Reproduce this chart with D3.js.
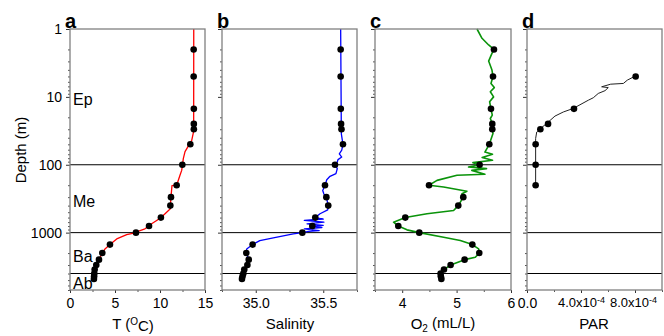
<!DOCTYPE html>
<html>
<head>
<meta charset="utf-8">
<script src="https://cdn.jsdelivr.net/npm/d3@7"></script>
<style>
  body { margin: 0; background: #fff; }
  svg { display: block; font-family: Arial, "Liberation Sans", sans-serif; }
</style>
</head>
<body>
<svg id="chart" width="664" height="336"></svg>
<script>
// bottle samples (m) shared by T, S and O2
const sampleDepth = [2, 5, 15, 25, 30, 50, 100, 200, 300, 400, 600, 800, 1000, 1500, 2000, 2500, 3000, 3500, 4000, 4400, 4800];
const tempDots = [13.74, 13.74, 13.76, 13.76, 13.76, 13.37, 12.48, 11.85, 11.22, 11.15, 10.1, 8.78, 7.33, 4.44, 3.59, 3.22, 2.92, 2.74, 2.7, 2.68, 2.66];
const salDots = [35.629, 35.629, 35.63, 35.632, 35.635, 35.646, 35.587, 35.513, 35.523, 35.537, 35.441, 35.419, 35.345, 34.977, 34.93, 34.948, 34.938, 34.915, 34.908, 34.902, 34.898];
const o2Dots = [5.687, 5.669, 5.632, 5.656, 5.656, 5.601, 5.423, 4.493, 5.123, 5.031, 4.057, 3.928, 4.314, 5.289, 5.417, 5.147, 4.89, 4.768, 4.706, 4.71, 4.72];

const parDepth = [5, 15, 25, 30, 50, 100, 200];
const parDots = [8.05e-4, 3.48e-4, 1.56e-4, 0.99e-4, 0.64e-4, 0.64e-4, 0.64e-4];

// CTD profiles, [depth, value]
const tempLine = [[1, 13.75], [30, 13.74], [33, 13.72], [44, 13.52], [50, 13.26], [64, 12.78], [81, 12.59], [100, 12.5], [121, 12.41], [143, 12.22], [200, 11.85], [203, 11.33], [300, 11.22], [400, 11.15], [445, 11.15], [527, 10.56], [600, 10.1], [662, 9.63], [741, 9.07], [800, 8.78], [879, 8.33], [931, 7.78], [1000, 7.33], [1067, 6.3], [1236, 5.19], [1500, 4.44], [1740, 3.89], [2000, 3.59], [2500, 3.22], [3000, 2.92], [3500, 2.74], [4000, 2.67], [4900, 2.63]];
const salLine = [[1, 35.629], [35, 35.634], [50, 35.646], [61, 35.637], [69, 35.619], [77, 35.637], [84, 35.609], [91, 35.604], [100, 35.587], [114, 35.604], [135, 35.594], [148, 35.55], [166, 35.526], [200, 35.513], [239, 35.496], [270, 35.505], [300, 35.523], [400, 35.537], [461, 35.533], [527, 35.476], [600, 35.441], [630, 35.5], [660, 35.36], [702, 35.505], [741, 35.38], [780, 35.5], [800, 35.419], [840, 35.49], [879, 35.36], [931, 35.47], [960, 35.39], [1000, 35.345], [1042, 35.278], [1194, 35.13], [1309, 35.03], [1500, 34.977], [1740, 34.933], [2000, 34.93], [2500, 34.948], [3000, 34.938], [3500, 34.915], [4000, 34.908], [4900, 34.898]];
const o2Line = [[1, 5.375], [1.37, 5.467], [1.72, 5.589], [2, 5.687], [2.29, 5.65], [2.97, 5.589], [4.03, 5.65], [5, 5.669], [6.34, 5.632], [7.3, 5.693], [8.4, 5.62], [10, 5.68], [11.8, 5.607], [15, 5.632], [18.6, 5.656], [20.8, 5.62], [25, 5.656], [30, 5.656], [34.7, 5.669], [50, 5.601], [65, 5.52], [70, 5.66], [78, 5.47], [86, 5.66], [93, 5.3], [100, 5.423], [108, 5.22], [114, 5.55], [121, 5.28], [138, 5.52], [143, 5.007], [170, 4.64], [200, 4.493], [213, 4.761], [245, 5.19], [267, 5.099], [300, 5.123], [400, 5.031], [472, 4.945], [527, 4.456], [600, 4.057], [702, 3.842], [800, 3.928], [910, 4.088], [1000, 4.314], [1167, 4.761], [1309, 5.068], [1500, 5.289], [1740, 5.405], [2000, 5.417], [2307, 5.344], [2500, 5.147], [3000, 4.89], [3500, 4.768], [4000, 4.706], [4900, 4.72]];
const parLine = [[4.9, 8.05e-4], [5.67, 7.43e-4], [6.34, 7.14e-4], [6.5, 6.2e-4], [7.1, 5.53e-4], [7.3, 6.02e-4], [8.1, 5.78e-4], [8.9, 5.28e-4], [10.3, 4.91e-4], [11.2, 4.54e-4], [14.8, 3.43e-4], [16.7, 2.69e-4], [19.2, 2.07e-4], [24.2, 1.5e-4], [29.4, 0.99e-4], [32.9, 0.72e-4], [41, 0.64e-4], [200, 0.64e-4]];

// zone boundaries and names
const zoneDepths = [100, 1000, 4000];
const zoneNames = ['Ep', 'Me', 'Ba', 'Ab'];
const zoneLabelDepth = [10.8, 344, 2230, 5650];

// tick labels
const depthTickLabels = [1, 10, 100, 1000];
const tempTickLabels = [0, 5, 10, 15];
const salTickLabels = [35.0, 35.5];
const o2TickLabels = [4, 5, 6];
const parTickLabels = [0, 4e-4, 8e-4];

const svg = d3.select('#chart');
const plotTop = 29;
const plotBottom = 290;
const frameColor = '#808080';

const y = d3.scaleLog().domain([1, 7000]).range([plotTop, plotBottom]);

const panels = [
  { letter: 'a', left: 70, right: 205, domain: [0, 15], step: 2.5, labels: tempTickLabels,
    fmt: d3.format('d'), line: tempLine, depth: sampleDepth, dots: tempDots, color: '#ff0000', lw: 1.3 },
  { letter: 'b', left: 222, right: 357, domain: [34.75, 35.75], step: 0.25, labels: salTickLabels,
    fmt: d3.format('.1f'), line: salLine, depth: sampleDepth, dots: salDots, color: '#0000ff', lw: 1.3 },
  { letter: 'c', left: 375, right: 511, domain: [3.5, 6], step: 0.5, labels: o2TickLabels,
    fmt: d3.format('d'), line: o2Line, depth: sampleDepth, dots: o2Dots, color: '#0a930a', lw: 1.6 },
  { letter: 'd', left: 527, right: 662, domain: [0, 1e-3], step: 2e-4, labels: parTickLabels,
    fmt: null, line: parLine, depth: parDepth, dots: parDots, color: '#222', lw: 1 },
];

const minorDepth = y.ticks().filter(d => !depthTickLabels.includes(d));

panels.forEach((p, i) => {
  const x = d3.scaleLinear().domain(p.domain).range([p.left, p.right]);
  const g = svg.append('g');

  // depth ticks on the left spine
  g.append('g')
    .attr('transform', `translate(${p.left},0)`)
    .call(d3.axisLeft(y).tickValues(minorDepth).tickSize(2).tickFormat(''))
    .call(a => a.select('.domain').remove())
    .call(a => a.selectAll('line').attr('stroke', '#555'));
  g.append('g')
    .attr('transform', `translate(${p.left},0)`)
    .call(d3.axisLeft(y).tickValues(depthTickLabels).tickSize(4).tickPadding(4)
      .tickFormat(i === 0 ? d3.format('d') : ''))
    .call(a => a.select('.domain').remove())
    .call(a => a.selectAll('line').attr('stroke', '#333'))
    .call(a => a.selectAll('text').attr('font-size', 14).attr('fill', '#000')
      .attr('font-family', 'Arial, "Liberation Sans", sans-serif'));

  // x ticks
  const allTicks = d3.range(p.domain[0], p.domain[1] + p.step / 2, p.step);
  const isLabel = v => p.labels.some(l => Math.abs(l - v) < p.step / 10);
  g.append('g')
    .attr('transform', `translate(0,${plotBottom})`)
    .call(d3.axisBottom(x).tickValues(allTicks.filter(v => !isLabel(v))).tickSize(2).tickFormat(''))
    .call(a => a.select('.domain').remove())
    .call(a => a.selectAll('line').attr('stroke', '#555'));
  const xa = g.append('g')
    .attr('transform', `translate(0,${plotBottom})`)
    .call(d3.axisBottom(x).tickValues(p.labels).tickSize(3).tickPadding(5)
      .tickFormat(p.fmt || (() => '')))
    .call(a => a.select('.domain').remove())
    .call(a => a.selectAll('line').attr('stroke', '#333'))
    .call(a => a.selectAll('text').attr('font-size', 14).attr('fill', '#000')
      .attr('font-family', 'Arial, "Liberation Sans", sans-serif'));
  if (!p.fmt) {
    // PAR labels written as mantissa x 10^-4
    xa.selectAll('.tick text').each(function (d) {
      const t = d3.select(this);
      if (d === 0) { t.text('0.0'); return; }
      t.attr('font-size', 13).attr('dx', d > 6e-4 ? -2 : 0);
      t.append('tspan').text((d / 1e-4).toFixed(1) + 'x10');
      t.append('tspan').attr('dy', '-0.45em').attr('font-size', 9).text('-4');
    });
  }

  // zone boundaries
  g.selectAll('line.zone').data(zoneDepths).join('line')
    .attr('class', 'zone')
    .attr('x1', p.left).attr('x2', p.right)
    .attr('y1', d => y(d)).attr('y2', d => y(d))
    .attr('stroke', '#000').attr('stroke-width', 1);

  // profile line
  g.append('path')
    .datum(p.line)
    .attr('fill', 'none')
    .attr('stroke', p.color)
    .attr('stroke-width', p.lw)
    .attr('stroke-linejoin', 'round')
    .attr('d', d3.line().x(d => x(d[1])).y(d => y(d[0])));

  // bottle samples
  g.selectAll('circle').data(p.dots).join('circle')
    .attr('cx', d => x(d))
    .attr('cy', (d, j) => y(p.depth[j]))
    .attr('r', 3.3)
    .attr('fill', '#000');

  // frame
  g.append('rect')
    .attr('x', p.left).attr('y', plotTop)
    .attr('width', p.right - p.left).attr('height', plotBottom - plotTop)
    .attr('fill', 'none').attr('stroke', frameColor).attr('stroke-width', 1.3);

  // panel letter
  svg.append('text')
    .attr('x', p.left - 5).attr('y', 28)
    .attr('font-size', 20).attr('font-weight', 'bold')
    .text(p.letter);
});

// zone names in panel a
svg.selectAll('text.zone').data(zoneNames).join('text')
  .attr('class', 'zone')
  .attr('x', 73)
  .attr('y', (d, i) => y(zoneLabelDepth[i]))
  .attr('dy', '0.36em')
  .attr('font-size', 16)
  .text(d => d);

// axis titles
const titleY = 329;
const tT = svg.append('text').attr('x', 133).attr('y', titleY).attr('text-anchor', 'middle').attr('font-size', 15);
tT.append('tspan').text('T (');
tT.append('tspan').attr('dy', '-0.45em').attr('font-size', 10).text('O');
tT.append('tspan').attr('dy', '0.45em').text('C)');

svg.append('text').attr('x', 290).attr('y', titleY).attr('text-anchor', 'middle').attr('font-size', 15).text('Salinity');

const tO = svg.append('text').attr('x', 443).attr('y', titleY).attr('text-anchor', 'middle').attr('font-size', 15);
tO.append('tspan').text('O');
tO.append('tspan').attr('dy', '0.3em').attr('font-size', 10).text('2');
tO.append('tspan').attr('dy', '-0.3em').text(' (mL/L)');

svg.append('text').attr('x', 594).attr('y', titleY).attr('text-anchor', 'middle').attr('font-size', 15).text('PAR');

svg.append('text')
  .attr('transform', 'translate(26,150) rotate(-90)')
  .attr('text-anchor', 'middle')
  .attr('font-size', 15)
  .text('Depth (m)');
</script>
</body>
</html>
